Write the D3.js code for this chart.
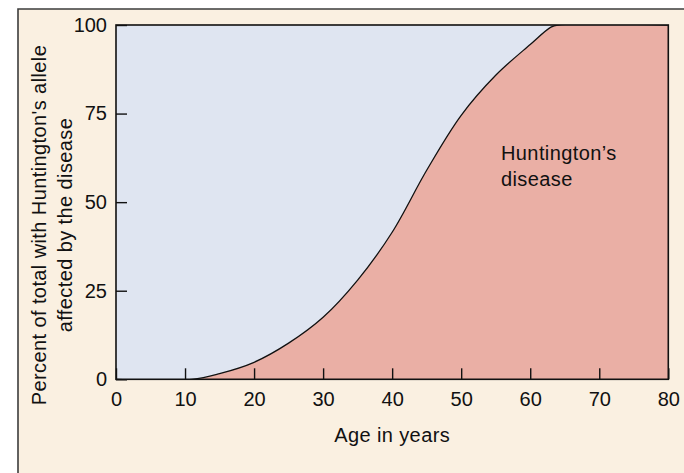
<!DOCTYPE html>
<html>
<head>
<meta charset="utf-8">
<script src="https://cdn.jsdelivr.net/npm/d3@7"></script>
<style>
  html, body { margin: 0; padding: 0; background: #ffffff; }
  svg { display: block; }
  text { font-family: "Liberation Sans", Arial, Helvetica, sans-serif; fill: #111; }
</style>
</head>
<body>
<svg id="chart" width="684" height="473"></svg>
<script>
// Age (years) and cumulative percent of carriers affected
const ages    = [0, 11, 15, 20, 25, 30, 35, 40, 45, 50, 55, 60, 63, 64, 80];
const percent = [0, 0, 1.6, 4.8, 10.2, 17.5, 28, 41.5, 59, 74.5, 85.8, 94.5, 99.4, 100, 100];

const xTicks = [0, 10, 20, 30, 40, 50, 60, 70, 80];
const yTicks = [0, 25, 50, 75, 100];

const xTitle = "Age in years";
const yTitleLines = ["Percent of total with Huntington's allele", "affected by the disease"];
const areaLabel = ["Huntington\u2019s", "disease"];

const svg = d3.select("#chart");
const W = 684, H = 473;

const plot = { left: 116, right: 668.3, top: 25, bottom: 379.3 };

// Panel background with frame on top and left
svg.append("rect").attr("x", 18).attr("y", 9).attr("width", W - 18).attr("height", H - 9)
  .attr("fill", "#faf0e1");
svg.append("path")
  .attr("d", `M18,${H} L18,9 L${W},9`)
  .attr("fill", "none").attr("stroke", "#3c3c3c").attr("stroke-width", 1.6);

const x = d3.scaleLinear().domain([0, 80]).range([plot.left, plot.right]);
const y = d3.scaleLinear().domain([0, 100]).range([plot.bottom, plot.top]);

svg.append("clipPath").attr("id", "plot-clip")
  .append("rect")
  .attr("x", x(0)).attr("y", y(100))
  .attr("width", x(80) - x(0)).attr("height", y(0) - y(100));

const pts = ages.map((a, i) => [a, percent[i]]);
const curve = d3.curveCatmullRom.alpha(0.5);

// Unaffected region
svg.append("rect")
  .attr("x", x(0)).attr("y", y(100))
  .attr("width", x(80) - x(0)).attr("height", y(0) - y(100))
  .attr("fill", "#dfe5f1");

const g = svg.append("g").attr("clip-path", "url(#plot-clip)");

// Affected region under the curve
const area = d3.area()
  .x(d => x(d[0])).y0(y(0)).y1(d => y(d[1]))
  .curve(curve);
g.append("path").datum(pts).attr("d", area).attr("fill", "#eaafa5");

const line = d3.line().x(d => x(d[0])).y(d => y(d[1])).curve(curve);
g.append("path").datum(pts).attr("d", line)
  .attr("fill", "none").attr("stroke", "#111").attr("stroke-width", 1.3);

// Axes with inward ticks
const xAxis = svg.append("g").attr("transform", `translate(0,${y(0)})`)
  .call(d3.axisBottom(x).tickValues(xTicks).tickFormat(d3.format("d"))
    .tickSizeInner(-11).tickSizeOuter(0).tickPadding(13));
const yAxis = svg.append("g").attr("transform", `translate(${x(0)},0)`)
  .call(d3.axisLeft(y).tickValues(yTicks).tickFormat(d3.format("d"))
    .tickSizeInner(-11).tickSizeOuter(0).tickPadding(9));

[xAxis, yAxis].forEach(ax => {
  ax.select(".domain").remove();
  ax.selectAll(".tick line").attr("stroke", "#111").attr("stroke-width", 1.4);
  ax.selectAll(".tick text").attr("font-size", 20).attr("fill", "#111")
    .style("font-family", "'Liberation Sans', Arial, sans-serif");
});

// Plot border
svg.append("rect")
  .attr("x", x(0)).attr("y", y(100))
  .attr("width", x(80) - x(0)).attr("height", y(0) - y(100))
  .attr("fill", "none").attr("stroke", "#111").attr("stroke-width", 1.6);

// Axis titles
svg.append("text")
  .attr("x", (x(0) + x(80)) / 2).attr("y", 442)
  .attr("text-anchor", "middle").attr("font-size", 20)
  .style("letter-spacing", "0.4px")
  .text(xTitle);

const yt = svg.append("text")
  .attr("transform", "translate(46,225) rotate(-90)")
  .attr("text-anchor", "middle").attr("font-size", 20)
  .style("letter-spacing", "0.4px");
yTitleLines.forEach((s, i) => {
  yt.append("tspan").attr("x", 0).attr("y", i * 26).text(s);
});

// Region label
const lab = svg.append("text").attr("font-size", 20).style("letter-spacing", "0.4px");
areaLabel.forEach((s, i) => {
  lab.append("tspan").attr("x", 501).attr("y", 160 + i * 26).text(s);
});
</script>
</body>
</html>
